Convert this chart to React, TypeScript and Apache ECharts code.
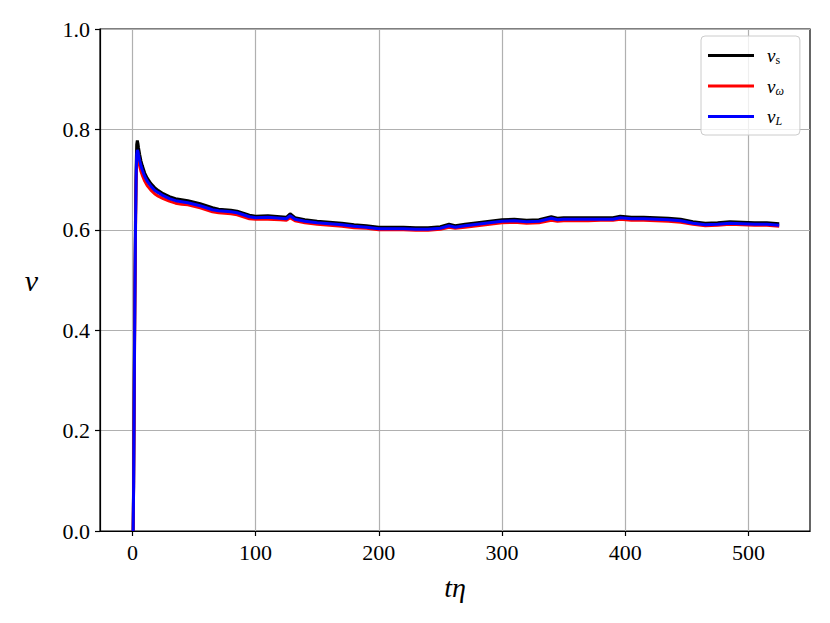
import React, { useEffect, useRef } from "react";
import * as echarts from "echarts";

const tValues = [0.6, 1, 1.5, 2, 2.5, 3, 3.5, 4, 4.5, 5, 6, 7, 8, 10, 12, 15, 18, 21, 25, 30, 35, 40, 45, 50, 55, 60, 65, 70, 75, 80, 85, 90, 95, 100, 110, 120, 125, 128, 132, 140, 150, 160, 170, 180, 190, 200, 210, 220, 230, 240, 250, 257, 262, 270, 280, 290, 300, 310, 320, 330, 340, 345, 350, 360, 370, 380, 390, 396, 405, 415, 425, 435, 445, 455, 465, 475, 485, 495, 505, 515, 525];

const vS = [0, 0.10, 0.30, 0.48, 0.62, 0.72, 0.77, 0.778, 0.772, 0.763,
  0.749, 0.737, 0.728, 0.713, 0.703, 0.692, 0.684, 0.678, 0.672, 0.666,
  0.662, 0.660, 0.658, 0.655, 0.652, 0.648, 0.644, 0.641, 0.640, 0.639,
  0.637, 0.633, 0.629, 0.627, 0.628, 0.626, 0.625, 0.632, 0.624, 0.620,
  0.617, 0.615, 0.613, 0.610, 0.608, 0.605, 0.605, 0.605, 0.604, 0.604,
  0.606, 0.611, 0.608, 0.611, 0.614, 0.617, 0.620, 0.621, 0.619, 0.620,
  0.626, 0.623, 0.624, 0.624, 0.624, 0.624, 0.624, 0.627, 0.625, 0.625,
  0.624, 0.623, 0.621, 0.616, 0.613, 0.614, 0.616, 0.615, 0.614, 0.614,
  0.612];

const vOmega = [0, 0.09, 0.27, 0.45, 0.59, 0.69, 0.737, 0.746, 0.743, 0.737,
  0.726, 0.716, 0.709, 0.697, 0.688, 0.679, 0.672, 0.667, 0.662, 0.657,
  0.653, 0.651, 0.650, 0.647, 0.644, 0.640, 0.636, 0.634, 0.633, 0.632,
  0.630, 0.626, 0.622, 0.621, 0.621, 0.620, 0.619, 0.624, 0.618, 0.614,
  0.611, 0.609, 0.607, 0.604, 0.603, 0.600, 0.600, 0.600, 0.599, 0.599,
  0.601, 0.605, 0.603, 0.605, 0.608, 0.611, 0.614, 0.615, 0.613, 0.614,
  0.619, 0.617, 0.618, 0.618, 0.618, 0.619, 0.619, 0.621, 0.619, 0.619,
  0.618, 0.617, 0.615, 0.611, 0.608, 0.609, 0.611, 0.610, 0.609, 0.609,
  0.607];

const vL = [0, 0.09, 0.28, 0.46, 0.60, 0.70, 0.75, 0.759, 0.756, 0.749,
  0.737, 0.727, 0.719, 0.706, 0.697, 0.687, 0.679, 0.674, 0.668, 0.662,
  0.658, 0.656, 0.654, 0.651, 0.648, 0.644, 0.640, 0.638, 0.637, 0.636,
  0.634, 0.630, 0.626, 0.624, 0.625, 0.623, 0.622, 0.628, 0.621, 0.617,
  0.614, 0.612, 0.610, 0.607, 0.605, 0.602, 0.602, 0.602, 0.601, 0.601,
  0.603, 0.608, 0.605, 0.608, 0.611, 0.614, 0.617, 0.618, 0.616, 0.617,
  0.623, 0.620, 0.621, 0.621, 0.621, 0.621, 0.621, 0.624, 0.622, 0.622,
  0.621, 0.620, 0.618, 0.613, 0.610, 0.611, 0.613, 0.612, 0.611, 0.611,
  0.609];

const xTicks = [0, 100, 200, 300, 400, 500];
const seriesNames = ["vs", "vw", "vL"];
const seriesColors = ["#000000", "#ff0000", "#0000ff"];

const FONT = "'Liberation Serif', 'DejaVu Serif', serif";

export default function App() {
  const ref = useRef<HTMLDivElement>(null);
  useEffect(() => {
    if (!ref.current) return;
    const chart = echarts.init(ref.current, undefined, { renderer: "svg" });
    const pairs = (ys: number[]) => tValues.map((t, i) => [t, ys[i]]);
    const allData = [vS, vOmega, vL];
    chart.setOption({
      animation: false,
      backgroundColor: "#ffffff",
      grid: {
        left: 100,
        right: 20,
        top: 29,
        bottom: 92,
        show: true,
        borderColor: "#000",
        borderWidth: 1.2,
        backgroundColor: "transparent",
      },
      legend: {
        data: seriesNames,
        orient: "vertical",
        left: 701,
        top: 36,
        padding: [10, 16, 8, 7],
        itemGap: 10.5,
        itemWidth: 46,
        itemHeight: 3,
        icon: "rect",
        backgroundColor: "rgba(255,255,255,0.8)",
        borderColor: "#cccccc",
        borderWidth: 1,
        borderRadius: 4,
        formatter: (name: string) => {
          if (name === "vs") return "{v|v}{s|s}";
          if (name === "vw") return "{v|v}{si|ω}";
          return "{v|v}{si|L}";
        },
        textStyle: {
          fontFamily: FONT,
          color: "#000",
          padding: [0, 0, 0, 8],
          rich: {
            v: { fontFamily: FONT, fontStyle: "italic", fontSize: 19, color: "#000" },
            s: { fontFamily: FONT, fontSize: 12, color: "#000", padding: [9, 0, 0, 0] },
            si: { fontFamily: FONT, fontStyle: "italic", fontSize: 12, color: "#000", padding: [9, 0, 0, 0] },
          },
        },
      },
      xAxis: {
        type: "value",
        min: -26.3,
        max: 550,
        name: "tη",
        nameLocation: "middle",
        nameGap: 42,
        nameTextStyle: { fontFamily: FONT, fontStyle: "italic", fontSize: 28, color: "#000" },
        axisLine: { show: true, onZero: false, lineStyle: { color: "#000", width: 1.2 } },
        axisTick: { show: true, customValues: xTicks, length: 5, lineStyle: { color: "#000", width: 1.2 } },
        axisLabel: {
          customValues: xTicks,
          fontFamily: FONT,
          fontSize: 22,
          color: "#000",
          margin: 10,
        },
        splitLine: { show: true, lineStyle: { color: "#b0b0b0", width: 1.2 } },
      },
      yAxis: {
        type: "value",
        min: 0,
        max: 1,
        interval: 0.2,
        name: "v",
        nameLocation: "middle",
        nameRotate: 0,
        nameGap: 62,
        nameTextStyle: { fontFamily: FONT, fontStyle: "italic", fontSize: 30, color: "#000" },
        axisLine: { show: true, onZero: false, lineStyle: { color: "#000", width: 1.2 } },
        axisTick: { show: true, length: 5, lineStyle: { color: "#000", width: 1.2 } },
        axisLabel: {
          fontFamily: FONT,
          fontSize: 22,
          color: "#000",
          margin: 10,
          formatter: (v: number) => v.toFixed(1),
        },
        splitLine: { show: true, lineStyle: { color: "#b0b0b0", width: 1.2 } },
      },
      series: seriesNames.map((n, i) => ({
        name: n,
        type: "line",
        data: pairs(allData[i]),
        symbol: "none",
        color: seriesColors[i],
        lineStyle: { color: seriesColors[i], width: 3 },
        z: 2 + i,
      })),
    });
    return () => chart.dispose();
  }, []);
  return <div ref={ref} style={{ width: 830, height: 623, margin: -8 }} />;
}
